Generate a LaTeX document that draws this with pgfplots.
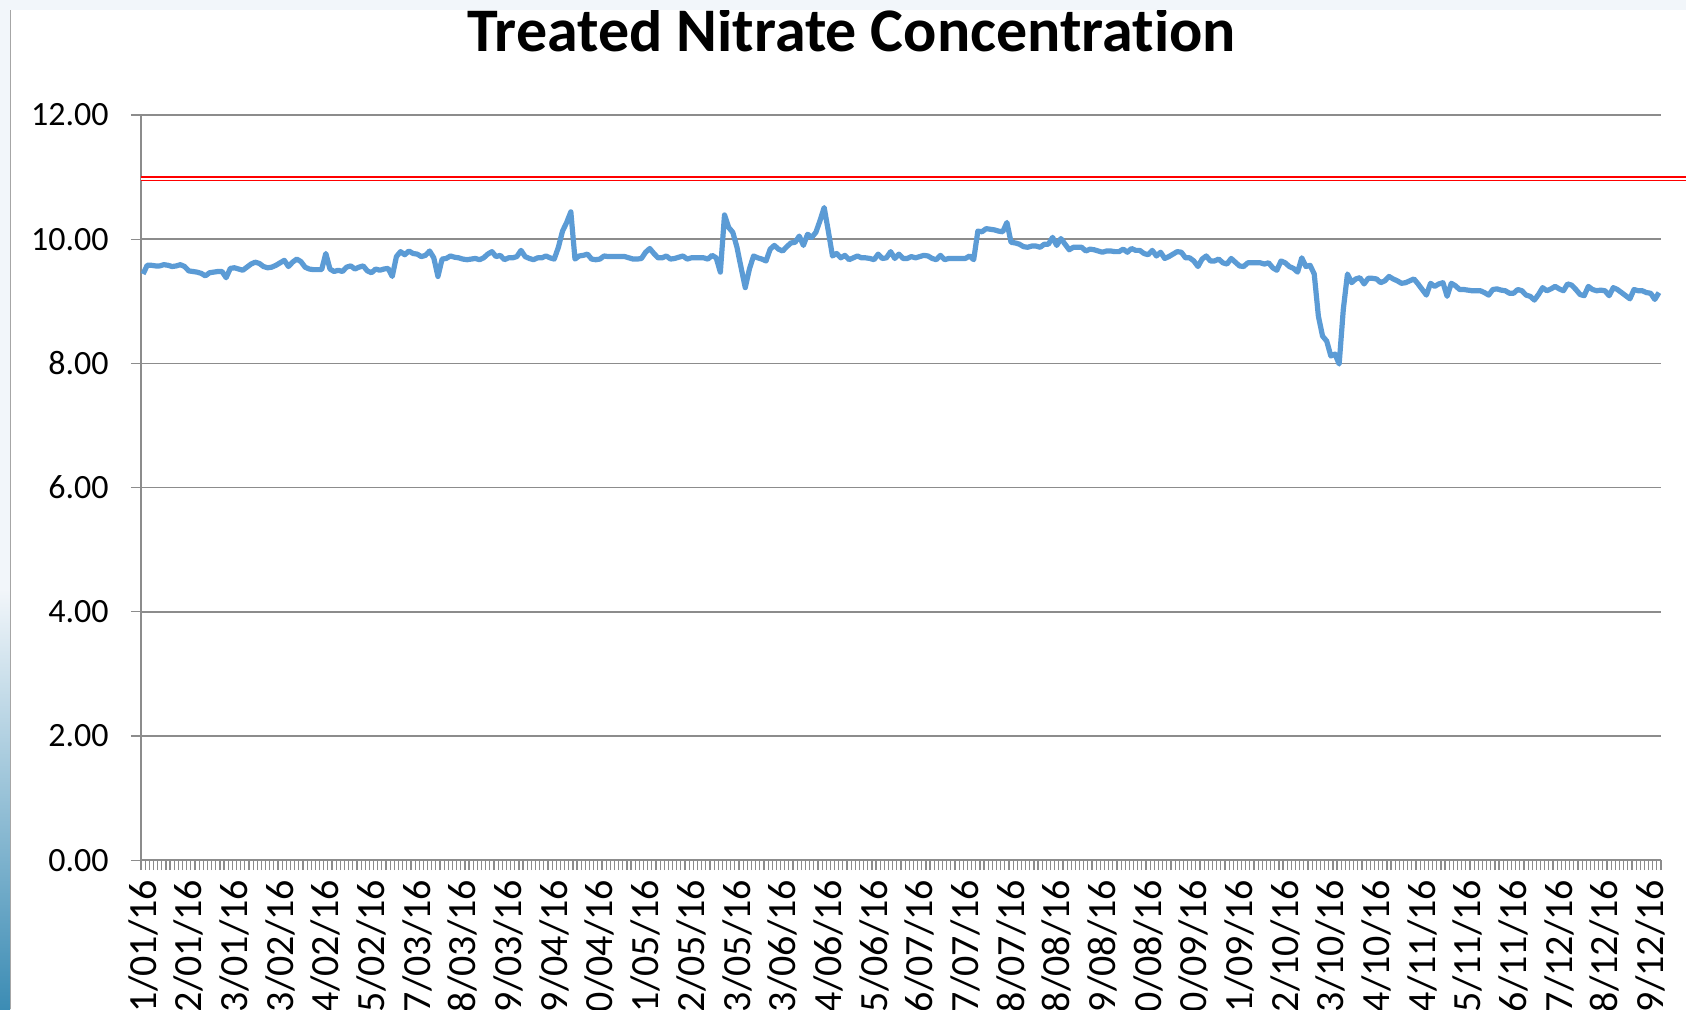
\documentclass[border=0pt]{standalone}
\usepackage{pgfplots}
\pgfplotsset{compat=1.18}
\usepackage{fontspec}
\setmainfont{Carlito}[Ligatures=NoCommon]
\definecolor{gridgray}{RGB}{140,140,140}
\definecolor{lineblue}{RGB}{91,155,213}
\definecolor{bandblue}{RGB}{242,246,250}
\definecolor{stripdark}{RGB}{60,140,180}
\begin{document}
\begin{tikzpicture}
\useasboundingbox (0pt,0pt) rectangle (843pt,504.5pt);
\clip (0pt,0pt) rectangle (843pt,504.5pt);
\fill[white] (0pt,0pt) rectangle (843pt,504.5pt);
\begin{axis}[
  at={(70.5pt,74.4pt)}, anchor=south west,
  scale only axis, width=760pt, height=372.6pt,
  xmin=-0.5, xmax=365.5, ymin=0, ymax=12,
  clip=false,
  axis x line*=bottom, axis y line*=left,
  axis line style={gridgray, line width=0.8pt},
  ytick={0,2,4,6,8,10,12},
  ymajorgrids,
  major grid style={gridgray, line width=0.8pt},
  tick align=outside,
  major tick length=5pt,
  every tick/.style={gridgray, line width=0.6pt},
  xtick={-0.5,0.5,...,365.5},
  xticklabels={},
  extra x ticks={0,11,22,33,44,55,66,77,88,99,110,121,132,143,154,165,176,187,198,209,220,231,242,253,264,275,286,297,308,319,330,341,352,363},
  extra x tick labels={01/01/16,12/01/16,23/01/16,03/02/16,14/02/16,25/02/16,07/03/16,18/03/16,29/03/16,09/04/16,20/04/16,01/05/16,12/05/16,23/05/16,03/06/16,14/06/16,25/06/16,06/07/16,17/07/16,28/07/16,08/08/16,19/08/16,30/08/16,10/09/16,21/09/16,02/10/16,13/10/16,24/10/16,04/11/16,15/11/16,26/11/16,07/12/16,18/12/16,29/12/16},
  extra x tick style={tick style={draw=none}},
  xticklabel style={yshift=-4.7pt, rotate=90, anchor=east, inner sep=0pt, font=\fontsize{20}{24}\selectfont, text=black},
  yticklabel style={inner sep=0pt, xshift=-11pt, font=\fontsize{17}{20}\selectfont, text=black,
    /pgf/number format/.cd, fixed, fixed zerofill, precision=2},
  /pgf/number format/assume math mode=true,
]
\addplot[red, line width=0.7pt, double=white, double distance=1.1pt, mark=none] coordinates {(-0.5,10.97) (380,10.97)};
\addplot[lineblue, line width=2.6pt, line join=round, mark=none] coordinates {
(0,9.44) (1,9.58) (2,9.58) (3,9.57) (4,9.57) (5,9.59) (6,9.58) (7,9.56) (8,9.57) (9,9.59)
(10,9.56) (11,9.49) (12,9.48) (13,9.47) (14,9.45) (15,9.41) (16,9.46) (17,9.47) (18,9.48) (19,9.48)
(20,9.38) (21,9.53) (22,9.54) (23,9.52) (24,9.50) (25,9.55) (26,9.60) (27,9.63) (28,9.61) (29,9.56)
(30,9.54) (31,9.55) (32,9.58) (33,9.62) (34,9.66) (35,9.56) (36,9.63) (37,9.68) (38,9.64) (39,9.55)
(40,9.52) (41,9.51) (42,9.51) (43,9.51) (44,9.77) (45,9.52) (46,9.48) (47,9.50) (48,9.48) (49,9.55)
(50,9.57) (51,9.52) (52,9.55) (53,9.57) (54,9.49) (55,9.46) (56,9.52) (57,9.50) (58,9.52) (59,9.53)
(60,9.40) (61,9.72) (62,9.80) (63,9.75) (64,9.81) (65,9.77) (66,9.76) (67,9.72) (68,9.74) (69,9.81)
(70,9.70) (71,9.40) (72,9.68) (73,9.69) (74,9.73) (75,9.71) (76,9.70) (77,9.68) (78,9.67) (79,9.68)
(80,9.69) (81,9.67) (82,9.70) (83,9.76) (84,9.80) (85,9.72) (86,9.74) (87,9.67) (88,9.70) (89,9.70)
(90,9.72) (91,9.82) (92,9.72) (93,9.69) (94,9.67) (95,9.70) (96,9.70) (97,9.73) (98,9.70) (99,9.68)
(100,9.87) (101,10.13) (102,10.27) (103,10.44) (104,9.68) (105,9.73) (106,9.74) (107,9.76) (108,9.68) (109,9.67)
(110,9.68) (111,9.73) (112,9.72) (113,9.72) (114,9.72) (115,9.72) (116,9.72) (117,9.70) (118,9.68) (119,9.68)
(120,9.69) (121,9.79) (122,9.85) (123,9.77) (124,9.70) (125,9.70) (126,9.73) (127,9.68) (128,9.69) (129,9.71)
(130,9.73) (131,9.68) (132,9.70) (133,9.70) (134,9.70) (135,9.70) (136,9.68) (137,9.74) (138,9.70) (139,9.47)
(140,10.39) (141,10.19) (142,10.11) (143,9.87) (144,9.54) (145,9.22) (146,9.52) (147,9.73) (148,9.70) (149,9.68)
(150,9.65) (151,9.84) (152,9.90) (153,9.84) (154,9.81) (155,9.88) (156,9.94) (157,9.95) (158,10.05) (159,9.90)
(160,10.08) (161,10.03) (162,10.11) (163,10.30) (164,10.51) (165,10.13) (166,9.73) (167,9.77) (168,9.70) (169,9.74)
(170,9.67) (171,9.70) (172,9.73) (173,9.70) (174,9.70) (175,9.69) (176,9.67) (177,9.76) (178,9.69) (179,9.70)
(180,9.80) (181,9.69) (182,9.76) (183,9.69) (184,9.69) (185,9.72) (186,9.70) (187,9.72) (188,9.74) (189,9.73)
(190,9.69) (191,9.67) (192,9.74) (193,9.67) (194,9.69) (195,9.69) (196,9.69) (197,9.69) (198,9.69) (199,9.73)
(200,9.67) (201,10.13) (202,10.12) (203,10.17) (204,10.16) (205,10.15) (206,10.13) (207,10.12) (208,10.27) (209,9.95)
(210,9.94) (211,9.92) (212,9.88) (213,9.87) (214,9.89) (215,9.89) (216,9.87) (217,9.92) (218,9.92) (219,10.03)
(220,9.90) (221,10.01) (222,9.92) (223,9.83) (224,9.87) (225,9.87) (226,9.87) (227,9.81) (228,9.84) (229,9.83)
(230,9.81) (231,9.79) (232,9.81) (233,9.81) (234,9.80) (235,9.80) (236,9.84) (237,9.79) (238,9.85) (239,9.82)
(240,9.82) (241,9.77) (242,9.75) (243,9.82) (244,9.73) (245,9.79) (246,9.69) (247,9.72) (248,9.76) (249,9.80)
(250,9.79) (251,9.70) (252,9.70) (253,9.65) (254,9.56) (255,9.68) (256,9.73) (257,9.65) (258,9.65) (259,9.68)
(260,9.62) (261,9.60) (262,9.69) (263,9.63) (264,9.57) (265,9.56) (266,9.62) (267,9.62) (268,9.62) (269,9.62)
(270,9.60) (271,9.62) (272,9.54) (273,9.50) (274,9.65) (275,9.62) (276,9.56) (277,9.53) (278,9.47) (279,9.70)
(280,9.56) (281,9.58) (282,9.44) (283,8.76) (284,8.44) (285,8.36) (286,8.12) (287,8.15) (288,7.99) (289,8.87)
(290,9.44) (291,9.30) (292,9.36) (293,9.38) (294,9.28) (295,9.37) (296,9.37) (297,9.36) (298,9.30) (299,9.33)
(300,9.40) (301,9.36) (302,9.33) (303,9.29) (304,9.30) (305,9.33) (306,9.36) (307,9.28) (308,9.19) (309,9.10)
(310,9.29) (311,9.24) (312,9.28) (313,9.30) (314,9.08) (315,9.29) (316,9.25) (317,9.19) (318,9.19) (319,9.18)
(320,9.17) (321,9.17) (322,9.17) (323,9.14) (324,9.10) (325,9.19) (326,9.20) (327,9.18) (328,9.17) (329,9.13)
(330,9.13) (331,9.19) (332,9.17) (333,9.10) (334,9.08) (335,9.02) (336,9.11) (337,9.22) (338,9.17) (339,9.20)
(340,9.24) (341,9.20) (342,9.17) (343,9.28) (344,9.26) (345,9.19) (346,9.11) (347,9.09) (348,9.24) (349,9.19)
(350,9.17) (351,9.18) (352,9.17) (353,9.09) (354,9.22) (355,9.19) (356,9.14) (357,9.09) (358,9.04) (359,9.19)
(360,9.17) (361,9.17) (362,9.14) (363,9.13) (364,9.03) (365,9.14)
};
\end{axis}
\node[anchor=base, font=\fontsize{31}{31}\selectfont\bfseries] at (425.8pt,478.7pt) {Treated Nitrate Concentration};
\fill[bandblue] (0pt,499.5pt) rectangle (843pt,504.5pt);
\fill[bandblue] (0pt,0pt) rectangle (5pt,499.5pt);
\shade[bottom color=stripdark, top color=bandblue] (0pt,0pt) rectangle (5pt,210pt);
\draw[gray!70, line width=0.6pt] (5.3pt,0pt) -- (5.3pt,499.5pt);
\end{tikzpicture}
\end{document}
